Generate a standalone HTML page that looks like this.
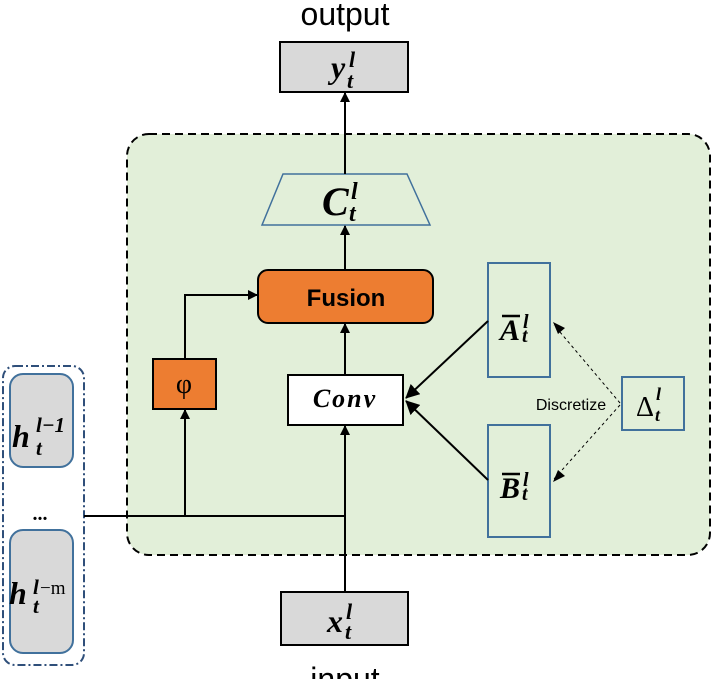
<!DOCTYPE html>
<html><head><meta charset="utf-8"><style>body{margin:0;background:#fff}svg{display:block}</style></head><body>
<svg width="712" height="679" viewBox="0 0 712 679" xmlns="http://www.w3.org/2000/svg">
<defs>
<marker id="ar" markerWidth="10" markerHeight="10" refX="9" refY="5" orient="auto" markerUnits="userSpaceOnUse"><path d="M0,0 L10,5 L0,10 z" fill="#000"/></marker>
<marker id="ar2" markerWidth="14" markerHeight="14" refX="13" refY="7" orient="auto" markerUnits="userSpaceOnUse"><path d="M0,0 L14,7 L0,14 z" fill="#000"/></marker>
</defs>
<g font-family="Liberation Serif, serif">
<text x="345" y="25" font-family="Liberation Sans, sans-serif" font-size="32" text-anchor="middle">output</text>
<rect x="127" y="134" width="583" height="421" rx="22" fill="#e2efd9" stroke="#000" stroke-width="2" stroke-dasharray="8,5"/>
<rect x="280" y="42" width="128" height="50" fill="#d9d9d9" stroke="#000" stroke-width="2"/>
<text x="331" y="78" font-size="32" font-weight="bold" font-style="italic">y</text><text x="349" y="67" font-size="22" font-weight="bold" font-style="italic">l</text><text x="347" y="88" font-size="22" font-weight="bold" font-style="italic">t</text>
<polygon points="283,174 407,174 430,225 262,225" fill="#e2efd9" stroke="#41719c" stroke-width="1.5"/>
<text x="322" y="215" font-size="40" font-weight="bold" font-style="italic">C</text><text x="351" y="199" font-size="24" font-weight="bold" font-style="italic">l</text><text x="349" y="221" font-size="24" font-weight="bold" font-style="italic">t</text>
<rect x="258" y="270" width="175" height="53" rx="10" fill="#ed7d31" stroke="#000" stroke-width="2"/>
<text x="346" y="306" font-family="Liberation Sans, sans-serif" font-size="24" font-weight="bold" text-anchor="middle">Fusion</text>
<rect x="153" y="359" width="63" height="50" fill="#ed7d31" stroke="#000" stroke-width="2"/>
<text x="184" y="393" font-size="28" text-anchor="middle">φ</text>
<rect x="288" y="375" width="115" height="50" fill="#fff" stroke="#000" stroke-width="2"/>
<text x="345" y="407" font-size="26" font-weight="bold" font-style="italic" text-anchor="middle" letter-spacing="2">Conv</text>
<rect x="488" y="263" width="62" height="114" fill="#e2efd9" stroke="#41719c" stroke-width="2"/>
<text x="500" y="340" font-size="30" font-weight="bold" font-style="italic">A</text><line x1="502" y1="316" x2="520" y2="316" stroke="#000" stroke-width="2.5"/><text x="523" y="328" font-size="20" font-weight="bold" font-style="italic">l</text><text x="522" y="342" font-size="20" font-weight="bold" font-style="italic">t</text>
<rect x="488" y="425" width="62" height="112" fill="#e2efd9" stroke="#41719c" stroke-width="2"/>
<text x="500" y="498" font-size="30" font-weight="bold" font-style="italic">B</text><line x1="502" y1="474" x2="520" y2="474" stroke="#000" stroke-width="2.5"/><text x="523" y="486" font-size="20" font-weight="bold" font-style="italic">l</text><text x="522" y="500" font-size="20" font-weight="bold" font-style="italic">t</text>
<rect x="622" y="377" width="62" height="53" fill="#e2efd9" stroke="#41719c" stroke-width="2"/>
<text x="636" y="416" font-size="28">Δ</text><text x="656" y="400" font-size="18" font-weight="bold" font-style="italic">l</text><text x="655" y="421" font-size="18" font-weight="bold" font-style="italic">t</text>
<text x="571" y="410" font-family="Liberation Sans, sans-serif" font-size="16" text-anchor="middle">Discretize</text>
<line x1="620" y1="403" x2="554" y2="325" stroke="#000" stroke-dasharray="3,3"/><path d="M553,322 L565,328 L558,334 z"/>
<line x1="620" y1="405" x2="554" y2="479" stroke="#000" stroke-dasharray="3,3"/><path d="M553,482 L558,470 L565,476 z"/>
<line x1="488" y1="321" x2="406" y2="398" stroke="#000" stroke-width="2" marker-end="url(#ar2)"/>
<line x1="488" y1="480" x2="406" y2="401" stroke="#000" stroke-width="2" marker-end="url(#ar2)"/>
<rect x="3" y="366" width="81" height="299" rx="12" fill="none" stroke="#2f4f7a" stroke-width="2" stroke-dasharray="8,3,2,3"/>
<rect x="10" y="374" width="63" height="93" rx="13" fill="#d9d9d9" stroke="#41719c" stroke-width="2"/>
<text x="12" y="447" font-size="32" font-weight="bold" font-style="italic">h</text><text x="36" y="432" font-size="21" font-weight="bold" font-style="italic">l−1</text><text x="36" y="455" font-size="21" font-weight="bold" font-style="italic">t</text>
<text x="40" y="520" font-size="20" font-weight="bold" text-anchor="middle">...</text>
<rect x="10" y="530" width="63" height="123" rx="13" fill="#d9d9d9" stroke="#41719c" stroke-width="2"/>
<text x="9" y="604" font-size="32" font-weight="bold" font-style="italic">h</text><text x="33" y="594" font-size="21" font-weight="bold" font-style="italic">l</text><text x="40" y="594" font-size="19">−m</text><text x="33" y="613" font-size="21" font-weight="bold" font-style="italic">t</text>
<rect x="281" y="592" width="127" height="53" fill="#d9d9d9" stroke="#000" stroke-width="2"/>
<text x="327" y="632" font-size="32" font-weight="bold" font-style="italic">x</text><text x="346" y="619" font-size="22" font-weight="bold" font-style="italic">l</text><text x="345" y="639" font-size="22" font-weight="bold" font-style="italic">t</text>
<text x="345" y="690" font-family="Liberation Sans, sans-serif" font-size="32" text-anchor="middle">input</text>
<g stroke="#000" stroke-width="2" fill="none">
<line x1="84" y1="516" x2="345" y2="516"/>
<line x1="185" y1="516" x2="185" y2="410" marker-end="url(#ar)"/>
<polyline points="185,359 185,295 257,295" marker-end="url(#ar)"/>
<line x1="345" y1="592" x2="345" y2="426" marker-end="url(#ar)"/>
<line x1="345" y1="375" x2="345" y2="324" marker-end="url(#ar)"/>
<line x1="345" y1="270" x2="345" y2="226" marker-end="url(#ar)"/>
<line x1="345" y1="174" x2="345" y2="93" marker-end="url(#ar)"/>
</g>
</g>
</svg>
</body></html>
